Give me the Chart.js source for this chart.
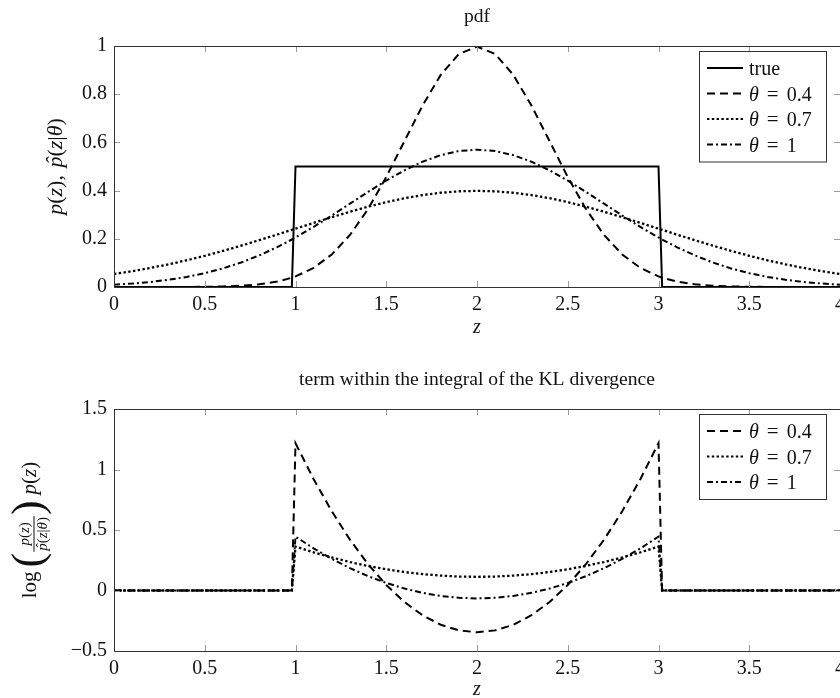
<!DOCTYPE html>
<html>
<head>
<meta charset="utf-8">
<script src="https://cdn.jsdelivr.net/npm/chart.js@4.4.0/dist/chart.umd.min.js"></script>
<style>
  html, body { margin: 0; padding: 0; background: #fff; overflow: hidden; }
  canvas { display: block; position: absolute; left: 0; }
  #pdf { top: 0; }
  #kl { top: 349px; }
</style>
</head>
<body>
<canvas id="pdf" width="840" height="349"></canvas>
<canvas id="kl" width="840" height="349"></canvas>
<script>
// grid of z values (denser at the jumps)
const zVals = [0, 0.1, 0.2, 0.3, 0.4, 0.5, 0.6, 0.7, 0.8, 0.9, 0.98,
  1.0, 1.1, 1.2, 1.3, 1.4, 1.5, 1.6, 1.7, 1.8, 1.9, 2.0, 2.1, 2.2, 2.3, 2.4, 2.5, 2.6, 2.7, 2.8, 2.9, 3.0,
  3.02, 3.1, 3.2, 3.3, 3.4, 3.5, 3.6, 3.7, 3.8, 3.9, 4.0];

// top panel: pdf
const pdfTrue = [0, 0, 0, 0, 0, 0, 0, 0, 0, 0, 0,
  0.5, 0.5, 0.5, 0.5, 0.5, 0.5, 0.5, 0.5, 0.5, 0.5, 0.5, 0.5, 0.5, 0.5, 0.5, 0.5, 0.5, 0.5, 0.5, 0.5, 0.5,
  0, 0, 0, 0, 0, 0, 0, 0, 0, 0, 0];
const pdfTheta04 = [0, 0, 0, 0.0001, 0.0003, 0.0009, 0.0022, 0.0051, 0.0111, 0.0227, 0.0386,
  0.0438, 0.0794, 0.135, 0.2158, 0.3238, 0.4566, 0.6049, 0.7528, 0.8802, 0.9667, 0.9974, 0.9667, 0.8802, 0.7528, 0.6049, 0.4566, 0.3238, 0.2158, 0.135, 0.0794, 0.0438,
  0.0386, 0.0227, 0.0111, 0.0051, 0.0022, 0.0009, 0.0003, 0.0001, 0, 0, 0];
const pdfTheta07 = [0.054, 0.0656, 0.079, 0.094, 0.1109, 0.1295, 0.1497, 0.1714, 0.1942, 0.2179, 0.2371,
  0.242, 0.2661, 0.2897, 0.3123, 0.3332, 0.3521, 0.3683, 0.3814, 0.391, 0.397, 0.3989, 0.397, 0.391, 0.3814, 0.3683, 0.3521, 0.3332, 0.3123, 0.2897, 0.2661, 0.242,
  0.2371, 0.2179, 0.1942, 0.1714, 0.1497, 0.1295, 0.1109, 0.094, 0.079, 0.0656, 0.054];
const pdfTheta1 = [0.0096, 0.0143, 0.0209, 0.0299, 0.0418, 0.0574, 0.0771, 0.1016, 0.1311, 0.1658, 0.1971,
  0.2054, 0.2494, 0.2966, 0.3457, 0.3947, 0.4416, 0.484, 0.5199, 0.5471, 0.5641, 0.5699, 0.5641, 0.5471, 0.5199, 0.484, 0.4416, 0.3947, 0.3457, 0.2966, 0.2494, 0.2054,
  0.1971, 0.1658, 0.1311, 0.1016, 0.0771, 0.0574, 0.0418, 0.0299, 0.0209, 0.0143, 0.0096];

// bottom panel: term within the KL integral
const klTheta04 = [0, 0, 0, 0, 0, 0, 0, 0, 0, 0, 0,
  1.2175, 0.92, 0.6547, 0.4202, 0.2173, 0.0454, -0.0952, -0.2046, -0.2828, -0.3296, -0.3453, -0.3296, -0.2828, -0.2046, -0.0952, 0.0454, 0.2173, 0.4202, 0.6547, 0.92, 1.2175,
  0, 0, 0, 0, 0, 0, 0, 0, 0, 0, 0];
const klTheta07 = [0, 0, 0, 0, 0, 0, 0, 0, 0, 0, 0,
  0.3628, 0.3154, 0.2729, 0.2354, 0.203, 0.1754, 0.1529, 0.1354, 0.123, 0.1154, 0.113, 0.1154, 0.123, 0.1354, 0.1529, 0.1754, 0.203, 0.2354, 0.2729, 0.3154, 0.3628,
  0, 0, 0, 0, 0, 0, 0, 0, 0, 0, 0];
const klTheta1 = [0, 0, 0, 0, 0, 0, 0, 0, 0, 0, 0,
  0.4449, 0.3478, 0.2611, 0.1845, 0.1183, 0.0622, 0.0163, -0.0195, -0.045, -0.0603, -0.0654, -0.0603, -0.045, -0.0195, 0.0163, 0.0622, 0.1183, 0.1845, 0.2611, 0.3478, 0.4449,
  0, 0, 0, 0, 0, 0, 0, 0, 0, 0, 0];

const xTicks = [0, 0.5, 1, 1.5, 2, 2.5, 3, 3.5, 4];
const yTicksPdf = [0, 0.2, 0.4, 0.6, 0.8, 1];
const yTicksKl = [-0.5, 0, 0.5, 1, 1.5];

const serif = '"Liberation Serif", "DejaVu Serif", serif';
const DASHED = [8, 5], DOTTED = [2.4, 2.4], DASHDOT = [6, 3, 2, 3];

function fontOf(r) { return (r.it ? 'italic ' : '') + (r.sz || 20) + 'px ' + serif; }
function runWidth(ctx, r) {
  if (r.frac) return Math.max(runsWidth(ctx, r.frac[0]), runsWidth(ctx, r.frac[1])) + 4;
  ctx.font = fontOf(r);
  return ctx.measureText(r.t).width + (r.gap || 0);
}
function runsWidth(ctx, runs) { return runs.reduce((s, r) => s + runWidth(ctx, r), 0); }
function drawRuns(ctx, runs, x, y) {
  let cx = x;
  runs.forEach(r => {
    const w = runWidth(ctx, r);
    if (r.frac) {
      const nw = runsWidth(ctx, r.frac[0]), dw = runsWidth(ctx, r.frac[1]);
      drawRuns(ctx, r.frac[0], cx + (w - nw) / 2, y + r.num);
      drawRuns(ctx, r.frac[1], cx + (w - dw) / 2, y + r.den);
      ctx.fillRect(cx + 1, y + r.bar - 0.5, w - 2, 1);
    } else {
      ctx.font = fontOf(r);
      ctx.textAlign = 'left';
      ctx.fillText(r.t, cx, y + (r.dy || 0));
      if (r.hat) {
        ctx.textAlign = 'center';
        ctx.fillText('\u02c6', cx + w * 0.6, y + (r.dy || 0) - 1);
        ctx.textAlign = 'left';
      }
    }
    cx += w;
  });
}
function th(v) { return [{ t: '\u03b8', it: true, gap: 8 }, { t: '=', sz: 21, gap: 8 }, { t: v }]; }

function deco(cfg) {
  return {
    id: 'deco',
    afterDatasetsDraw(chart) {
      const { ctx, chartArea: a, scales: { x, y } } = chart;
      ctx.save();
      // inward ticks on all four sides
      ctx.strokeStyle = '#9a9a9a';
      ctx.lineWidth = 1;
      ctx.beginPath();
      x.ticks.forEach(t => {
        const px = Math.round(x.getPixelForValue(t.value)) + 0.5;
        ctx.moveTo(px, a.bottom); ctx.lineTo(px, a.bottom - 6);
        ctx.moveTo(px, a.top); ctx.lineTo(px, a.top + 6);
      });
      y.ticks.forEach(t => {
        const py = Math.round(y.getPixelForValue(t.value)) + 0.5;
        ctx.moveTo(a.left, py); ctx.lineTo(a.left + 6, py);
        ctx.moveTo(a.right, py); ctx.lineTo(a.right - 6, py);
      });
      ctx.stroke();
      // frame
      ctx.strokeStyle = '#333';
      ctx.beginPath();
      ctx.moveTo(a.left + 0.5, a.top + 0.5);
      ctx.lineTo(a.left + 0.5, a.bottom + 0.5);
      ctx.lineTo(a.right, a.bottom + 0.5);
      ctx.moveTo(a.left, a.top + 0.5);
      ctx.lineTo(a.right, a.top + 0.5);
      ctx.stroke();

      // legend box
      const ds = chart.data.datasets;
      const bx = a.right - 141, by = a.top + 5, bw = 127;
      const bh = 34 + (ds.length - 1) * 25.5;
      ctx.fillStyle = '#fff';
      ctx.fillRect(bx, by, bw, bh);
      ctx.strokeStyle = '#333';
      ctx.strokeRect(bx + 0.5, by + 0.5, bw, bh);
      ctx.fillStyle = '#111';
      ctx.textBaseline = 'alphabetic';
      ds.forEach((d, i) => {
        const cy = by + 17 + i * 25.5;
        ctx.strokeStyle = '#000';
        ctx.lineWidth = 2;
        ctx.setLineDash(d.borderDash || []);
        ctx.beginPath();
        ctx.moveTo(bx + 8, cy); ctx.lineTo(bx + 44, cy);
        ctx.stroke();
        ctx.setLineDash([]);
        drawRuns(ctx, d.legendRuns, bx + 50, cy + 7);
      });
      ctx.restore();
    },
    afterDraw(chart) {
      const { ctx, chartArea: a } = chart;
      const mid = (a.left + a.right) / 2;
      ctx.save();
      ctx.fillStyle = '#111';
      ctx.textBaseline = 'alphabetic';
      ctx.textAlign = 'center';
      ctx.font = '19.6px ' + serif;
      ctx.fillText(cfg.title, mid, cfg.titleY);
      ctx.font = 'italic 20px ' + serif;
      ctx.fillText('z', mid, cfg.zY);
      // rotated y label
      ctx.translate(cfg.yLabX, (a.top + a.bottom) / 2);
      ctx.rotate(-Math.PI / 2);
      const w = runsWidth(ctx, cfg.yLabel);
      drawRuns(ctx, cfg.yLabel, -w / 2, 0);
      ctx.restore();
    }
  };
}

function line(label, legendRuns, ys, dash) {
  return {
    label, legendRuns,
    data: zVals.map((z, i) => ({ x: z, y: ys[i] })),
    borderColor: '#000', borderWidth: dash === DOTTED ? 2.3 : 2, borderDash: dash,
    pointRadius: 0, tension: 0, fill: false
  };
}

function fmt(v) { return String(v).replace('-', '\u2212'); }

function options(yTicks, padTop, xHeight) {
  return {
    responsive: false, animation: false, devicePixelRatio: 1,
    layout: { padding: { top: padTop, left: 0, right: 0, bottom: 0 } },
    plugins: { legend: { display: false }, tooltip: { enabled: false }, title: { display: false } },
    scales: {
      x: {
        type: 'linear', min: 0, max: 4,
        afterBuildTicks: s => { s.ticks = xTicks.map(v => ({ value: v })); },
        afterFit: s => { s.height = xHeight; s.paddingLeft = 0; s.paddingRight = 0; },
        grid: { display: false, drawTicks: false }, border: { display: false },
        ticks: { padding: 6, color: '#111', font: { family: serif, size: 20 }, maxRotation: 0, autoSkip: false, callback: fmt }
      },
      y: {
        type: 'linear', min: yTicks[0], max: yTicks[yTicks.length - 1],
        afterBuildTicks: s => { s.ticks = yTicks.map(v => ({ value: v })); },
        afterFit: s => { s.width = 114; },
        grid: { display: false, drawTicks: false }, border: { display: false },
        ticks: { padding: 7, color: '#111', font: { family: serif, size: 20 }, autoSkip: false, callback: fmt }
      }
    }
  };
}

const big = 22;
const pLabel = [
  { t: 'p', it: true, sz: big }, { t: '(', sz: big }, { t: 'z', it: true, sz: big }, { t: ')', sz: big },
  { t: ', ', sz: big, gap: 2 },
  { t: 'p', it: true, sz: big, hat: true }, { t: '(', sz: big }, { t: 'z', it: true, sz: big }, { t: '|', sz: big },
  { t: '\u03b8', it: true, sz: big }, { t: ')', sz: big }
];
const small = 15;
const klLabel = [
  { t: 'log', sz: 21, gap: 4 },
  { t: '(', sz: 44, dy: 6 },
  { frac: [
      [{ t: 'p', it: true, sz: small }, { t: '(', sz: small }, { t: 'z', it: true, sz: small }, { t: ')', sz: small }],
      [{ t: 'p', it: true, sz: small, hat: true }, { t: '(', sz: small }, { t: 'z', it: true, sz: small }, { t: '|', sz: small }, { t: '\u03b8', it: true, sz: small }, { t: ')', sz: small }]
    ], num: -7, den: 11, bar: -2 },
  { t: ')', sz: 44, dy: 6, gap: 6 },
  { t: 'p', it: true, sz: 21 }, { t: '(', sz: 21 }, { t: 'z', it: true, sz: 21 }, { t: ')', sz: 21 }
];

new Chart(document.getElementById('pdf'), {
  type: 'line',
  data: {
    datasets: [
      line('true', [{ t: 'true' }], pdfTrue, []),
      line('θ = 0.4', th('0.4'), pdfTheta04, DASHED),
      line('θ = 0.7', th('0.7'), pdfTheta07, DOTTED),
      line('θ = 1', th('1'), pdfTheta1, DASHDOT)
    ]
  },
  options: options(yTicksPdf, 46, 62),
  plugins: [deco({ title: 'pdf', titleY: 22, zY: 333, yLabX: 62, yLabel: pLabel })]
});

new Chart(document.getElementById('kl'), {
  type: 'line',
  data: {
    datasets: [
      line('θ = 0.4', th('0.4'), klTheta04, DASHED),
      line('θ = 0.7', th('0.7'), klTheta07, DOTTED),
      line('θ = 1', th('1'), klTheta1, DASHDOT)
    ]
  },
  options: options(yTicksKl, 60, 47),
  plugins: [deco({ title: 'term within the integral of the KL divergence', titleY: 36, zY: 346, yLabX: 36, yLabel: klLabel })]
});
</script>
</body>
</html>
